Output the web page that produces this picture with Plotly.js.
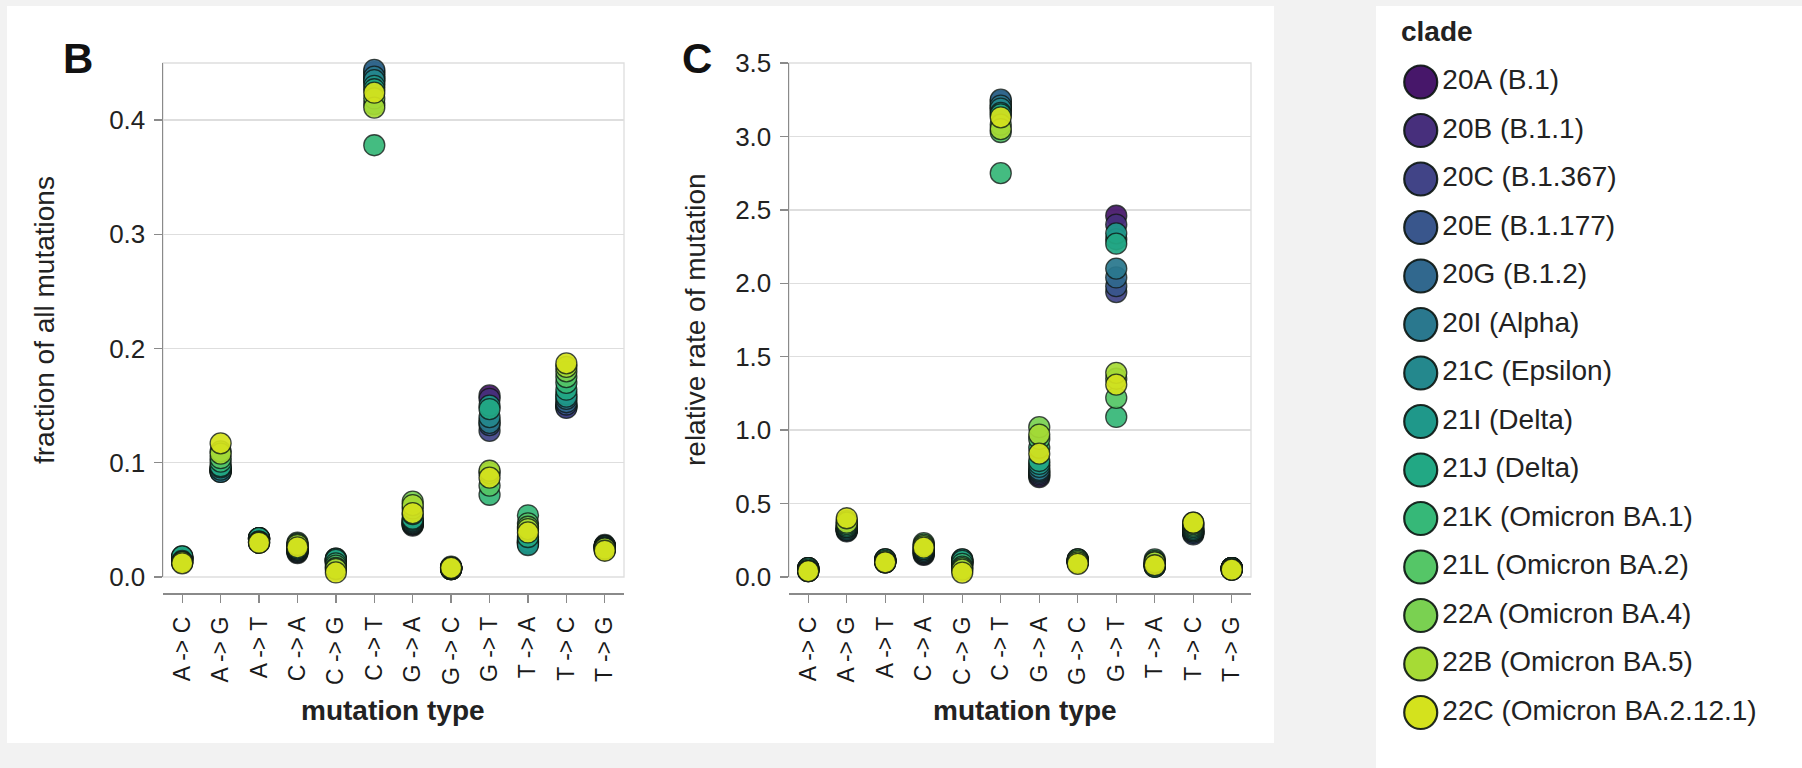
<!DOCTYPE html>
<html>
<head>
<meta charset="utf-8">
<script src="https://cdn.plot.ly/plotly-3.0.1.min.js"></script>
<style>html,body{margin:0;padding:0;background:#f2f2f2;}</style>
</head>
<body>
<div id="chart" style="width:1802px;height:768px;"></div>
<script>
// ---------- data ----------
const mutationTypes = ["A -> C","A -> G","A -> T","C -> A","C -> G","C -> T","G -> A","G -> C","G -> T","T -> A","T -> C","T -> G"];
const clades = ["20A (B.1)","20B (B.1.1)","20C (B.1.367)","20E (B.1.177)","20G (B.1.2)","20I (Alpha)","21C (Epsilon)","21I (Delta)","21J (Delta)","21K (Omicron BA.1)","21L (Omicron BA.2)","22A (Omicron BA.4)","22B (Omicron BA.5)","22C (Omicron BA.2.12.1)"];

// fraction of all mutations (panel B), one array per clade, in mutationTypes order
const fraction20A = [0.016,0.093,0.034,0.021,0.013,0.433,0.045,0.007,0.159,0.033,0.150,0.027];
const fraction20B = [0.016,0.094,0.034,0.022,0.013,0.436,0.046,0.007,0.156,0.032,0.149,0.027];
const fraction20C = [0.017,0.092,0.033,0.022,0.014,0.440,0.046,0.008,0.128,0.031,0.148,0.028];
const fraction20E = [0.017,0.093,0.033,0.023,0.014,0.442,0.047,0.007,0.133,0.030,0.151,0.027];
const fraction20G = [0.016,0.095,0.034,0.023,0.015,0.444,0.047,0.008,0.137,0.029,0.153,0.027];
const fraction20I = [0.017,0.092,0.033,0.024,0.015,0.438,0.048,0.007,0.135,0.030,0.156,0.026];
const fraction21C = [0.016,0.094,0.033,0.024,0.016,0.435,0.049,0.008,0.140,0.031,0.160,0.027];
const fraction21I = [0.018,0.096,0.034,0.025,0.016,0.430,0.050,0.008,0.150,0.028,0.158,0.026];
const fraction21J = [0.018,0.097,0.034,0.025,0.015,0.427,0.051,0.007,0.147,0.035,0.164,0.026];
const fraction21K = [0.013,0.101,0.031,0.028,0.012,0.378,0.055,0.008,0.072,0.054,0.170,0.025];
const fraction21L = [0.014,0.104,0.030,0.030,0.010,0.414,0.060,0.009,0.080,0.047,0.175,0.024];
const fraction22A = [0.013,0.110,0.031,0.029,0.008,0.419,0.066,0.008,0.091,0.044,0.180,0.024];
const fraction22B = [0.013,0.108,0.030,0.028,0.007,0.411,0.063,0.008,0.093,0.042,0.184,0.025];
const fraction22C = [0.012,0.117,0.030,0.026,0.004,0.424,0.056,0.008,0.087,0.039,0.187,0.023];

// relative rate of mutation (panel C)
const rate20A = [0.05,0.32,0.11,0.15,0.09,3.18,0.68,0.10,2.46,0.09,0.30,0.06];
const rate20B = [0.05,0.32,0.11,0.16,0.09,3.20,0.69,0.10,2.40,0.08,0.30,0.06];
const rate20C = [0.06,0.31,0.11,0.16,0.10,3.22,0.70,0.11,1.94,0.08,0.29,0.06];
const rate20E = [0.06,0.32,0.11,0.17,0.10,3.24,0.71,0.10,1.98,0.07,0.30,0.06];
const rate20G = [0.05,0.33,0.12,0.17,0.11,3.25,0.72,0.12,2.04,0.07,0.31,0.06];
const rate20I = [0.06,0.32,0.11,0.18,0.11,3.21,0.73,0.11,2.10,0.08,0.31,0.06];
const rate21C = [0.05,0.33,0.11,0.18,0.12,3.19,0.75,0.12,2.30,0.08,0.32,0.06];
const rate21I = [0.06,0.34,0.12,0.19,0.12,3.16,0.77,0.11,2.34,0.07,0.32,0.06];
const rate21J = [0.06,0.34,0.12,0.19,0.11,3.15,0.79,0.10,2.27,0.09,0.33,0.06];
const rate21K = [0.04,0.35,0.10,0.21,0.09,2.75,0.88,0.11,1.09,0.12,0.34,0.06];
const rate21L = [0.05,0.36,0.10,0.23,0.07,3.03,0.94,0.12,1.22,0.11,0.35,0.05];
const rate22A = [0.04,0.38,0.11,0.22,0.06,3.08,1.02,0.11,1.35,0.10,0.36,0.05];
const rate22B = [0.04,0.37,0.10,0.21,0.05,3.05,0.97,0.10,1.39,0.10,0.37,0.05];
const rate22C = [0.04,0.40,0.10,0.20,0.03,3.13,0.84,0.09,1.31,0.08,0.37,0.05];

const fractionByClade = [fraction20A,fraction20B,fraction20C,fraction20E,fraction20G,fraction20I,fraction21C,fraction21I,fraction21J,fraction21K,fraction21L,fraction22A,fraction22B,fraction22C];
const rateByClade = [rate20A,rate20B,rate20C,rate20E,rate20G,rate20I,rate21C,rate21I,rate21J,rate21K,rate21L,rate22A,rate22B,rate22C];

// ---------- style ----------
const cladeColors = ["#47176a","#472f7c","#414487","#39568c","#31688e","#2a788e","#24888d","#1f988a","#22a884","#36b878","#55c667","#7ad151","#a6db35","#d4e21d"];
const FONT = "Liberation Sans, Arial, Helvetica, sans-serif";
const outline = {color:"rgba(15,25,20,0.85)", width:1.3};

const traces = [];
clades.forEach((c, i) => {
  traces.push({
    type:"scatter", mode:"markers", name:c, showlegend:false, cliponaxis:false,
    x: mutationTypes, y: fractionByClade[i], xaxis:"x", yaxis:"y",
    marker:{size:21, color:cladeColors[i], opacity:0.93, line:outline},
    hoverinfo:"x+y+name"
  });
});
clades.forEach((c, i) => {
  traces.push({
    type:"scatter", mode:"markers", name:c, showlegend:false, cliponaxis:false,
    x: mutationTypes, y: rateByClade[i], xaxis:"x2", yaxis:"y2",
    marker:{size:21, color:cladeColors[i], opacity:0.93, line:outline},
    hoverinfo:"x+y+name"
  });
});
// legend drawn as its own subplot
traces.push({
  type:"scatter", mode:"markers+text", showlegend:false, cliponaxis:false,
  x: clades.map(() => "clade"), y: clades, xaxis:"x3", yaxis:"y3",
  text: clades, textposition:"middle right",
  textfont:{family:FONT, size:28, color:"#222"},
  marker:{size:33, color:cladeColors, line:{color:"rgba(10,20,15,0.9)", width:2.2}},
  hoverinfo:"skip"
});

const W = 1802, H = 768;
const px = v => v / W, py = v => 1 - v / H;

const yDomain = [py(577), py(63)];
const axisCommon = {
  showline:true, linecolor:"#8a8a8a", linewidth:1.5,
  ticks:"outside", ticklen:8, tickcolor:"#8a8a8a", tickwidth:1.3
};
const xCommon = Object.assign({}, axisCommon, {
  type:"category", categoryorder:"array", categoryarray:mutationTypes,
  range:[-0.5, 11.5], anchor:"free", position:py(593),
  tickangle:-90, showgrid:false, zeroline:false, fixedrange:true,
  ticklabelstandoff:5,
  tickfont:{family:FONT, size:23, color:"#1a1a1a"}
});
const yCommon = Object.assign({}, axisCommon, {
  domain:yDomain, tick0:0, tickformat:".1f", showgrid:true,
  gridcolor:"#dedede", gridwidth:1.3, zeroline:false, fixedrange:true,
  ticklabelstandoff:3,
  tickfont:{family:FONT, size:26, color:"#222"}
});

const layout = {
  width:W, height:H, margin:{l:0, r:0, t:0, b:0},
  paper_bgcolor:"#f2f2f2", plot_bgcolor:"rgba(0,0,0,0)",
  font:{family:FONT, color:"#222"},
  xaxis: Object.assign({}, xCommon, {domain:[px(163), px(624)]}),
  yaxis: Object.assign({}, yCommon, {anchor:"x", range:[0, 0.45], dtick:0.1}),
  xaxis2: Object.assign({}, xCommon, {domain:[px(789), px(1251)]}),
  yaxis2: Object.assign({}, yCommon, {anchor:"x2", range:[0, 3.5], dtick:0.5}),
  xaxis3: {domain:[px(1376), 1], anchor:"y3", visible:false, type:"category", range:[-0.105, 0.895], fixedrange:true},
  yaxis3: {domain:[0, 1], anchor:"x3", visible:false, type:"category", range:[(768-82)/48.5, -82/48.5], fixedrange:true},
  shapes:[
    {type:"rect", xref:"paper", yref:"paper", x0:px(7), x1:px(1274), y0:py(743), y1:py(6), fillcolor:"#ffffff", line:{width:0}, layer:"below"},
    {type:"rect", xref:"paper", yref:"paper", x0:px(1376), x1:1, y0:0, y1:py(6), fillcolor:"#ffffff", line:{width:0}, layer:"below"},
    {type:"rect", xref:"x domain", yref:"y domain", x0:0, x1:1, y0:0, y1:1, line:{color:"#dedede", width:1.3}, layer:"below"},
    {type:"rect", xref:"x2 domain", yref:"y2 domain", x0:0, x1:1, y0:0, y1:1, line:{color:"#dedede", width:1.3}, layer:"below"}
  ],
  annotations:[
    {text:"B", xref:"paper", yref:"paper", x:px(78), y:py(58), showarrow:false, xanchor:"center", yanchor:"middle", font:{family:FONT, size:42, weight:700, color:"#111"}},
    {text:"C", xref:"paper", yref:"paper", x:px(697), y:py(58), showarrow:false, xanchor:"center", yanchor:"middle", font:{family:FONT, size:42, weight:700, color:"#111"}},
    {text:"fraction of all mutations", xref:"paper", yref:"paper", x:px(44), y:py(320), textangle:-90, showarrow:false, xanchor:"center", yanchor:"middle", font:{family:FONT, size:28, color:"#222"}},
    {text:"relative rate of mutation", xref:"paper", yref:"paper", x:px(695), y:py(320), textangle:-90, showarrow:false, xanchor:"center", yanchor:"middle", font:{family:FONT, size:28, color:"#222"}},
    {text:"mutation type", xref:"paper", yref:"paper", x:px(393), y:py(710), showarrow:false, xanchor:"center", yanchor:"middle", font:{family:FONT, size:28, weight:700, color:"#222"}},
    {text:"mutation type", xref:"paper", yref:"paper", x:px(1025), y:py(710), showarrow:false, xanchor:"center", yanchor:"middle", font:{family:FONT, size:28, weight:700, color:"#222"}},
    {text:"clade", xref:"paper", yref:"paper", x:px(1399), y:py(32), showarrow:false, xanchor:"left", yanchor:"middle", font:{family:FONT, size:28, weight:700, color:"#222"}}
  ]
};

Plotly.newPlot("chart", traces, layout, {displayModeBar:false, staticPlot:true});
</script>
</body>
</html>
